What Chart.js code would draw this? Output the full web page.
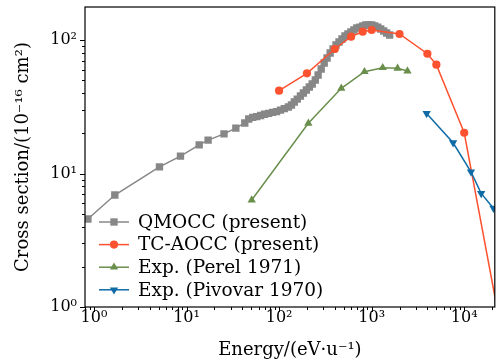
<!DOCTYPE html>
<html>
<head>
<meta charset="utf-8">
<script src="https://cdn.jsdelivr.net/npm/chart.js@4.4.0/dist/chart.umd.min.js"></script>
<style>
  html, body { margin: 0; padding: 0; background: #fff; }
  #wrap { width: 500px; height: 363px; }
</style>
</head>
<body>
<div id="wrap"><canvas id="cs_chart" width="500" height="363"></canvas></div>
<script>
// QMOCC (present)
const qmoccEnergy = [0.86, 1.68, 5.1, 8.6, 13.7, 17.1, 25.4, 34.1, 42.6, 47.0, 51.9, 57.3, 63.2, 69.7,
    76.9, 85.0, 93.8, 103.5, 114, 126, 136, 146, 157, 170, 183, 197, 212, 228, 246, 264, 285, 307,
    330, 356, 383, 412, 444, 478, 515, 554, 597, 643, 692, 745, 803, 865, 931, 1003, 1080, 1163,
    1253, 1349, 1452, 1564];
const qmoccSigma = [4.56, 6.9, 11.2, 13.5, 16.4, 17.8, 19.8, 21.9, 23.9, 25.6, 26.3, 26.7, 27.2, 27.8,
    28.2, 28.7, 29.1, 29.8, 30.6, 31.5, 32.6, 34.3, 36.1, 38.1, 40.1, 42.2, 44.5, 46.8, 50.2, 54.7,
    60.6, 67.3, 73.3, 79.9, 85.6, 91.8, 96.6, 101.7, 107.2, 110.9, 114.8, 118.8, 123.0, 125.0, 127.3,
    129.5, 129.5, 129.5, 127.3, 125.0, 120.9, 116.8, 112.8, 109.0];

// TC-AOCC (present)
const tcEnergy = [100, 200, 400, 600, 800, 1000, 2000, 4000, 5000, 10000, 25000];
const tcSigma = [41.7, 56.3, 85.6, 105.9, 115.4, 118.8, 110.9, 78.9, 65.3, 20.2, 0.68];

// Exp. (Perel 1971)
const perelEnergy = [50.6, 207, 470, 837, 1315, 1905, 2437];
const perelSigma = [6.33, 23.8, 43.5, 57.9, 62.0, 61.4, 58.6];

// Exp. (Pivovar 1970)
const pivovarEnergy = [3926, 7586, 11830, 15240, 20700];
const pivovarSigma = [28.2, 17.0, 10.3, 7.1, 5.49];

const xMajorTicks = [1, 10, 100, 1000, 10000];
const xTickLabels = ['10⁰', '10¹', '10²', '10³', '10⁴'];
const yMajorTicks = [1, 10, 100];
const yTickLabels = ['10⁰', '10¹', '10²'];

const FONT = 'DejaVu Serif';

function pairs(xs, ys) {
    return xs.map((x, i) => ({ x: x, y: ys[i] }));
}

function logTicks(min, max) {
    const out = [];
    for (let e = Math.floor(Math.log10(min)); e <= Math.ceil(Math.log10(max)); e++) {
        for (let m = 1; m < 10; m++) {
            const v = m * Math.pow(10, e);
            if (v >= min * 0.9999 && v <= max * 1.0001) out.push(v);
        }
    }
    return out;
}

function majorIndex(list, v) {
    return list.findIndex(t => Math.abs(t - v) / t < 1e-6);
}

const frameAndTicks = {
    id: 'frameAndTicks',
    afterDatasetsDraw(chart) {
        const { ctx, chartArea: a, scales: { x, y } } = chart;
        ctx.save();
        ctx.strokeStyle = '#000';
        ctx.lineWidth = 1;
        ctx.beginPath();
        for (const t of x.ticks) {
            const px = Math.round(x.getPixelForValue(t.value)) + 0.5;
            const len = majorIndex(xMajorTicks, t.value) >= 0 ? 5 : 3;
            ctx.moveTo(px, a.bottom);
            ctx.lineTo(px, a.bottom + len);
        }
        for (const t of y.ticks) {
            const py = Math.round(y.getPixelForValue(t.value)) + 0.5;
            const len = majorIndex(yMajorTicks, t.value) >= 0 ? 5 : 3;
            ctx.moveTo(a.left, py);
            ctx.lineTo(a.left - len, py);
        }
        ctx.stroke();
        ctx.lineWidth = 1.2;
        ctx.strokeRect(a.left, a.top, a.right - a.left, a.bottom - a.top);
        ctx.restore();
    }
};

const innerLegend = {
    id: 'innerLegend',
    afterDraw(chart) {
        const { ctx, chartArea: a } = chart;
        const rowH = 22.6;
        const x0 = a.left + 14;
        let yRow = a.bottom - 85;
        ctx.save();
        ctx.font = '18.5px "' + FONT + '"';
        ctx.textBaseline = 'middle';
        ctx.textAlign = 'left';
        for (const ds of chart.data.datasets) {
            ctx.strokeStyle = ds.borderColor;
            ctx.lineWidth = ds.borderWidth;
            ctx.beginPath();
            ctx.moveTo(x0, yRow);
            ctx.lineTo(x0 + 30, yRow);
            ctx.stroke();
            ctx.fillStyle = ds.pointBackgroundColor;
            Chart.helpers.drawPoint(ctx, {
                pointStyle: ds.pointStyle,
                radius: ds.pointRadius,
                rotation: ds.pointRotation || 0,
                borderWidth: 0
            }, x0 + 15, yRow);
            ctx.fillStyle = '#000';
            ctx.fillText(ds.label, x0 + 39, yRow + 1);
            yRow += rowH;
        }
        ctx.restore();
    }
};

function serie(label, xs, ys, color, style, radius, rotation, order) {
    return {
        label: label,
        data: pairs(xs, ys),
        borderColor: color,
        backgroundColor: color,
        pointBackgroundColor: color,
        borderWidth: 1.5,
        pointStyle: style,
        pointRadius: radius,
        pointHoverRadius: radius,
        pointRotation: rotation,
        pointBorderWidth: 0,
        showLine: true,
        fill: false,
        order: order
    };
}

const ctx = document.getElementById('cs_chart').getContext('2d');
const chart = new Chart(ctx, {
    type: 'scatter',
    data: {
        datasets: [
            serie('QMOCC (present)', qmoccEnergy, qmoccSigma, '#878787', 'rect', 5.2, 0, 4),
            serie('TC-AOCC (present)', tcEnergy, tcSigma, '#fc5230', 'circle', 4.1, 0, 3),
            serie('Exp. (Perel 1971)', perelEnergy, perelSigma, '#6a8f4c', 'triangle', 4.8, 0, 2),
            serie('Exp. (Pivovar 1970)', pivovarEnergy, pivovarSigma, '#0e6ba6', 'triangle', 4.8, 180, 1)
        ]
    },
    options: {
        responsive: false,
        animation: false,
        layout: { padding: { left: 0, right: 2, top: 7, bottom: 0 } },
        plugins: {
            legend: { display: false },
            tooltip: { enabled: false }
        },
        scales: {
            x: {
                type: 'logarithmic',
                min: 0.8,
                max: 21400,
                afterFit: s => {
                    s.height = 56;
                    s.paddingLeft = 0;
                    s.paddingRight = 0;
                },
                afterBuildTicks: s => { s.ticks = logTicks(s.min, s.max).map(v => ({ value: v })); },
                grid: { display: false, drawTicks: false },
                border: { display: false },
                ticks: {
                    autoSkip: false,
                    maxRotation: 0,
                    padding: 1,
                    color: '#000',
                    font: { family: FONT, size: 16 },
                    callback: v => {
                        const i = majorIndex(xMajorTicks, v);
                        return i >= 0 ? xTickLabels[i] : '';
                    }
                },
                title: {
                    display: true,
                    text: 'Energy/(eV·u⁻¹)',
                    color: '#000',
                    font: { family: FONT, size: 18 },
                    padding: { top: 0, bottom: 2 }
                }
            },
            y: {
                type: 'logarithmic',
                min: 1,
                max: 176.7,
                afterFit: s => {
                    s.width = 85;
                    s.paddingTop = 0;
                    s.paddingBottom = 0;
                },
                afterBuildTicks: s => { s.ticks = logTicks(s.min, s.max).map(v => ({ value: v })); },
                grid: { display: false, drawTicks: false },
                border: { display: false },
                ticks: {
                    autoSkip: false,
                    padding: 8,
                    color: '#000',
                    font: { family: FONT, size: 16 },
                    callback: v => {
                        const i = majorIndex(yMajorTicks, v);
                        return i >= 0 ? yTickLabels[i] : '';
                    }
                },
                title: {
                    display: true,
                    text: 'Cross section/(10⁻¹⁶ cm²)',
                    color: '#000',
                    font: { family: FONT, size: 18 },
                    padding: { top: 13, bottom: 0 }
                }
            }
        }
    },
    plugins: [frameAndTicks, innerLegend]
});
</script>
</body>
</html>
